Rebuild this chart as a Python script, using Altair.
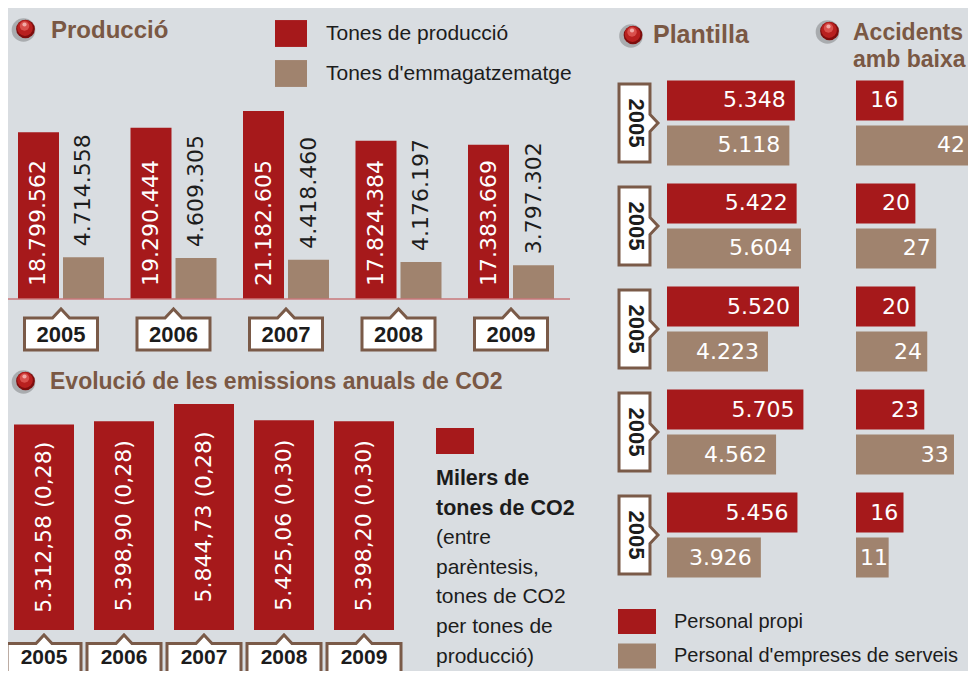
import altair as alt
import pandas as pd

# ---------------- data ----------------
years = ["2005", "2006", "2007", "2008", "2009"]
prod_series = ["Tones de producció", "Tones d'emmagatzematge"]
tones_produccio = [18799562, 19290444, 21182605, 17824384, 17383669]
tones_emmagatzematge = [4714558, 4609305, 4418460, 4176197, 3797302]

co2_milers = [5312.58, 5398.90, 5844.73, 5425.06, 5398.20]
co2_per_tona = [0.28, 0.28, 0.28, 0.30, 0.30]

plantilla_files = [1, 2, 3, 4, 5]
plantilla_years = ["2005", "2005", "2005", "2005", "2005"]
plant_series = ["Personal propi", "Personal d'empreses de serveis"]
personal_propi = [5348, 5422, 5520, 5705, 5456]
personal_serveis = [5118, 5604, 4223, 4562, 3926]
accidents_propi = [16, 20, 20, 23, 16]
accidents_serveis = [42, 27, 24, 33, 11]

co2_legend_bold = ["Milers de", "tones de CO2"]
co2_legend_text = ["(entre", "parèntesis,", "tones de CO2", "per tones de", "producció)"]

# ---------------- style ----------------
RED = "#a6191b"
BROWN = "#a0836e"
TITLE = "#7a5844"
BG = "#d9dde1"
INK = "#1c1c1c"
BOXC = "#7a5a48"
SANS = "Liberation Sans, Arial, sans-serif"
NUM = "DejaVu Sans, Verdana, sans-serif"
O = 8


def px(v):
    return v - O


def fmt_int(v):
    return f"{v:,}".replace(",", ".")


def fmt_dec(v):
    return f"{v:,.2f}".replace(",", "X").replace(".", ",").replace("X", ".")


dummy = pd.DataFrame({"k": [0]})
layers = []

# ---------------- Producció ----------------
prod_red = pd.DataFrame({"year": years, "serie": prod_series[0], "value": tones_produccio, "zero": 0})
prod_red["label"] = prod_red["value"].map(fmt_int)
prod_brown = pd.DataFrame({"year": years, "serie": prod_series[1], "value": tones_emmagatzematge})
prod_brown["label"] = prod_brown["value"].map(fmt_int)
year_df = pd.DataFrame({"year": years})


def band_x(start, end, pad):
    return alt.X("year:N", scale=alt.Scale(type="band", domain=years, range=[px(start), px(end)],
                                           paddingInner=pad, paddingOuter=0), axis=None)


px_red = band_x(18, 509, 0.6356)     # red bars: 41 px wide, step 112.5
px_brown = band_x(63, 554, 0.6356)   # brown bars
px_group = band_x(18, 554, 0.2356)   # whole group (for year boxes)
p_yscale = alt.Scale(domain=[0, max(tones_produccio)], range=[px(299), px(111)], nice=False, zero=True)

p_legend = alt.Legend(title=None, orient="none", legendX=px(275), legendY=px(33.5) - 16,
                      direction="vertical", padding=0,
                      symbolType="M-1,-0.84L1,-0.84L1,0.84L-1,0.84Z", symbolSize=1024,
                      symbolStrokeWidth=0, symbolOpacity=1,
                      labelFont=SANS, labelFontSize=21, labelColor=INK,
                      labelOffset=19, rowPadding=10, labelLimit=400)
p_color_scale = alt.Scale(domain=prod_series, range=[RED, BROWN])

layers.append(alt.Chart(prod_red).mark_bar().encode(
    x=px_red, y=alt.Y("value:Q", scale=p_yscale, axis=None),
    color=alt.Color("serie:N", scale=p_color_scale, legend=p_legend)))
layers.append(alt.Chart(prod_brown).mark_bar().encode(
    x=px_brown, y=alt.Y("value:Q", scale=p_yscale, axis=None),
    color=alt.Color("serie:N", scale=p_color_scale, legend=None)))
layers.append(alt.Chart(dummy).mark_rule(color="#c9777a", strokeWidth=1.5).encode(
    x=alt.value(px(5)), x2=alt.value(px(570)), y=alt.value(px(299))))
layers.append(alt.Chart(prod_red).mark_text(
    angle=270, align="left", baseline="middle", dx=13, color="white", font=NUM, fontSize=22
).encode(x=px_red, y=alt.Y("zero:Q", scale=p_yscale, axis=None), text="label:N"))
layers.append(alt.Chart(prod_brown).mark_text(
    angle=270, align="left", baseline="middle", dx=11, color=INK, font=NUM, fontSize=22
).encode(x=px_brown, y=alt.Y("value:Q", scale=p_yscale, axis=None), text="label:N"))

BOX_UP = "M-1,-0.438L-0.233,-0.438L0,-0.685L0.233,-0.438L1,-0.438L1,0.438L-1,0.438Z"
layers.append(alt.Chart(year_df).mark_point(shape=BOX_UP, size=5329, filled=True, fill="white",
                                            stroke=BOXC, strokeWidth=3, opacity=1).encode(
    x=px_group, y=alt.value(px(334))))
layers.append(alt.Chart(year_df).mark_text(font=SANS, fontWeight="bold", fontSize=22, color=INK,
                                           baseline="alphabetic", align="center").encode(
    x=px_group, y=alt.value(px(342)), text="year:N"))

# ---------------- CO2 ----------------
co2_df = pd.DataFrame({"year": years, "value": co2_milers, "ratio": co2_per_tona})
co2_df["label"] = [f"{fmt_dec(v)} ({fmt_dec(r)})" for v, r in zip(co2_milers, co2_per_tona)]
co2_df["mid"] = co2_df["value"] / 2

c_x = band_x(14, 394, 0.25)
c_yscale = alt.Scale(domain=[0, max(co2_milers)], range=[px(630), px(404)], nice=False, zero=True)
layers.append(alt.Chart(co2_df).mark_bar(color=RED).encode(
    x=c_x, y=alt.Y("value:Q", scale=c_yscale, axis=None)))
layers.append(alt.Chart(co2_df).mark_text(
    angle=270, align="center", baseline="middle", color="white", font=NUM, fontSize=22
).encode(x=c_x, y=alt.Y("mid:Q", scale=c_yscale, axis=None), text="label:N"))
BOX_UP2 = "M-1,-0.42L-0.216,-0.42L0,-0.65L0.216,-0.42L1,-0.42L1,0.5L-1,0.5Z"
layers.append(alt.Chart(year_df).mark_point(shape=BOX_UP2, size=5476, filled=True, fill="white",
                                            stroke=BOXC, strokeWidth=3, opacity=1).encode(
    x=c_x, y=alt.value(px(659))))
layers.append(alt.Chart(year_df).mark_text(font=SANS, fontWeight="bold", fontSize=21, color=INK,
                                           baseline="alphabetic", align="center").encode(
    x=c_x, y=alt.value(px(664)), text="year:N"))

layers.append(alt.Chart(dummy).mark_rect(color=RED).encode(
    x=alt.value(px(436)), x2=alt.value(px(474)), y=alt.value(px(428)), y2=alt.value(px(454))))
LH = 29.6
for i, line in enumerate(co2_legend_bold):
    layers.append(alt.Chart(dummy).mark_text(font=SANS, fontWeight="bold", fontSize=21.5, color=INK,
                                             align="left", baseline="alphabetic").encode(
        x=alt.value(px(436)), y=alt.value(px(485 + LH * i)), text=alt.value(line)))
for i, line in enumerate(co2_legend_text):
    layers.append(alt.Chart(dummy).mark_text(font=SANS, fontSize=21, color=INK,
                                             align="left", baseline="alphabetic").encode(
        x=alt.value(px(436)), y=alt.value(px(485 + LH * (i + 2))), text=alt.value(line)))

# ---------------- Plantilla & Accidents ----------------
def frame(values, serie, fmt):
    d = pd.DataFrame({"fila": plantilla_files, "serie": serie, "value": values})
    d["label"] = d["value"].map(fmt)
    return d


pl_red = frame(personal_propi, plant_series[0], fmt_int)
pl_brown = frame(personal_serveis, plant_series[1], fmt_int)
ac_red = frame(accidents_propi, plant_series[0], str)
ac_brown = frame(accidents_serveis, plant_series[1], str)
fy_df = pd.DataFrame({"fila": plantilla_files, "year": plantilla_years})


def band_y(start, end, pad):
    return alt.Y("fila:O", scale=alt.Scale(type="band", domain=plantilla_files, range=[px(start), px(end)],
                                           paddingInner=pad, paddingOuter=0), axis=None)


ry_red = band_y(80.5, 532.5, 0.6117)
ry_brown = band_y(125.5, 577.5, 0.6117)
ry_group = band_y(80.5, 577.5, 0.1748)

pl_xscale = alt.Scale(domain=[0, max(personal_propi)], range=[px(667), px(803.4)], nice=False, zero=True)
ac_xscale = alt.Scale(domain=[0, max(accidents_serveis)], range=[px(856), px(980.7)], nice=False, zero=True)
pl_color_scale = alt.Scale(domain=plant_series, range=[RED, BROWN])
pl_legend = alt.Legend(title=None, orient="none", legendX=px(618), legendY=px(621.5) - 19,
                       direction="vertical", padding=0,
                       symbolType="M-1,-0.66L1,-0.66L1,0.66L-1,0.66Z", symbolSize=1444,
                       symbolStrokeWidth=0, symbolOpacity=1,
                       labelFont=SANS, labelFontSize=20, labelColor=INK,
                       labelOffset=18, rowPadding=2.5, labelLimit=400)

for d, ry, leg in [(pl_red, ry_red, pl_legend), (pl_brown, ry_brown, None)]:
    layers.append(alt.Chart(d).mark_bar().encode(
        y=ry, x=alt.X("value:Q", scale=pl_xscale, axis=None),
        color=alt.Color("serie:N", scale=pl_color_scale, legend=leg)))
    layers.append(alt.Chart(d).mark_text(align="right", baseline="middle", dx=-9, color="white",
                                         font=NUM, fontSize=22).encode(
        y=ry, x=alt.X("value:Q", scale=pl_xscale, axis=None), text="label:N"))

for d, ry in [(ac_red, ry_red), (ac_brown, ry_brown)]:
    layers.append(alt.Chart(d).mark_bar().encode(
        y=ry, x=alt.X("value:Q", scale=ac_xscale, axis=None),
        color=alt.Color("serie:N", scale=pl_color_scale, legend=None)))
    # label centred a little inside the bar end (kept inside the visible page for the longest bar)
    layers.append(alt.Chart(d).transform_calculate(
        lx="min(max(datum.value * 0.55, datum.value - 6.5), 32)"
    ).mark_text(align="center", baseline="middle", color="white", font=NUM, fontSize=22).encode(
        y=ry, x=alt.X("lx:Q", scale=ac_xscale, axis=None), text="label:N"))

BOX_SIDE = "M-0.397,-1L0.397,-1L0.397,-0.218L0.603,0L0.397,0.218L0.397,1L-0.397,1Z"
layers.append(alt.Chart(fy_df).mark_point(shape=BOX_SIDE, size=6084, filled=True, fill="white",
                                          stroke=BOXC, strokeWidth=3, opacity=1).encode(
    y=ry_group, x=alt.value(px(634.5))))
layers.append(alt.Chart(fy_df).mark_text(font=SANS, fontWeight="bold", fontSize=22, color=INK, angle=90,
                                         baseline="middle", align="center").encode(
    y=ry_group, x=alt.value(px(635.5)), text="year:N"))


# ---------------- titles & balls ----------------
def title(text, x, y, size=24):
    return alt.Chart(dummy).mark_text(font=SANS, fontWeight="bold", fontSize=size, color=TITLE,
                                      align="left", baseline="alphabetic").encode(
        x=alt.value(px(x)), y=alt.value(px(y)), text=alt.value(text))


def ball(x, y):
    return [
        alt.Chart(dummy).mark_circle(color="#2e2e2e", opacity=0.28, size=560).encode(
            x=alt.value(px(x) - 2), y=alt.value(px(y) + 1)),
        alt.Chart(dummy).mark_circle(color="#7e0d0d", opacity=1, size=350).encode(
            x=alt.value(px(x)), y=alt.value(px(y))),
        alt.Chart(dummy).mark_circle(color="#b8201f", opacity=1, size=250).encode(
            x=alt.value(px(x) - 0.5), y=alt.value(px(y) - 1)),
        alt.Chart(dummy).mark_circle(color="#d9504c", opacity=1, size=90).encode(
            x=alt.value(px(x) - 1), y=alt.value(px(y) - 3)),
        alt.Chart(dummy).mark_circle(color="#f4b4b0", opacity=0.9, size=18).encode(
            x=alt.value(px(x) - 1), y=alt.value(px(y) - 4.5)),
    ]


layers += [
    title("Producció", 51, 38, 24),
    title("Evolució de les emissions anuals de CO2", 50, 389, 23),
    title("Plantilla", 653, 43, 25),
    title("Accidents", 853, 40, 23),
    title("amb baixa", 853, 66.5, 23),
]
layers += ball(25.5, 29) + ball(25.5, 381) + ball(633, 35) + ball(829.5, 31)

chart = alt.layer(*layers).resolve_scale(
    x="independent", y="independent", color="independent"
).properties(
    width=960, height=663, padding=0, autosize=alt.AutoSizeParams(type="none")
).configure(background=BG).configure_view(stroke=None)

chart.save("out.html", embed_options={"renderer": "svg", "actions": False})
